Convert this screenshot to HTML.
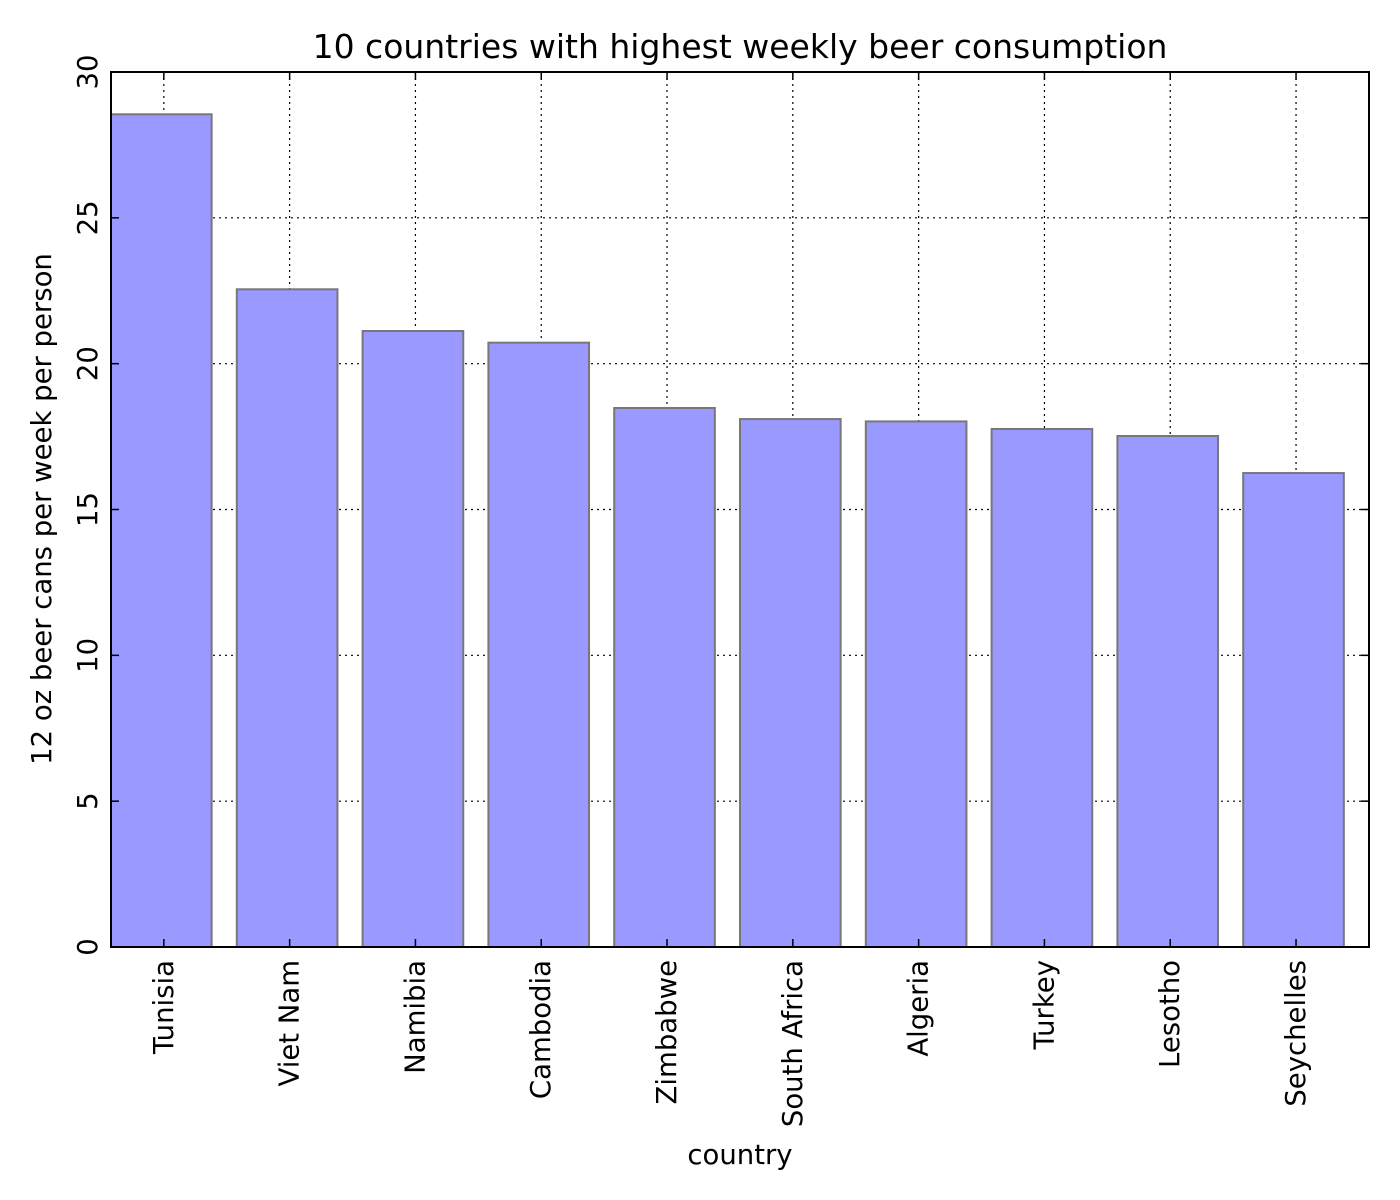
<!DOCTYPE html>
<html><head><meta charset="utf-8">
<style>
html,body{margin:0;padding:0;background:#fff;}
svg{display:block;font-family:"DejaVu Sans","Liberation Sans",sans-serif;}
</style></head>
<body>
<svg id="chart" width="1400" height="1200" viewBox="0 0 1400 1200">
<text x="740" y="58" font-size="33" text-anchor="middle">10 countries with highest weekly beer consumption</text>
<g id="grid"></g>
<g id="bars"></g>
<g id="axes"></g>
<text x="740" y="1164" font-size="27.5" text-anchor="middle">country</text>
<text transform="translate(51,509) rotate(-90)" font-size="27.5" text-anchor="middle">12 oz beer cans per week per person</text>
</svg>
<script>
const categories = ["Tunisia","Viet Nam","Namibia","Cambodia","Zimbabwe","South Africa","Algeria","Turkey","Lesotho","Seychelles"];
const values = [28.55, 22.55, 21.12, 20.72, 18.48, 18.1, 18.02, 17.76, 17.52, 16.25];
const yTicks = [0, 5, 10, 15, 20, 25, 30];

const NS = "http://www.w3.org/2000/svg";
const L = 111, R = 1369, T = 72, B = 947, yMax = 30;
const slot = (R - L) / categories.length;
const y = v => B - (v / yMax) * (B - T);
const xLeft = i => L + i * slot;
const xTick = i => L + i * slot + slot * 0.42;

function mk(tag, attrs, parent) {
  const e = document.createElementNS(NS, tag);
  for (const k in attrs) e.setAttribute(k, attrs[k]);
  parent.appendChild(e);
  return e;
}
const bars = document.getElementById("bars");
const grid = document.getElementById("grid");
const axes = document.getElementById("axes");

values.forEach((v, i) => {
  const r = mk("rect", {x: xLeft(i), y: y(v), width: slot * 0.8, height: B - y(v), fill: "#9999ff", stroke: "#777777", "stroke-width": 2}, bars);
  
  
});

categories.forEach((c, i) => {
  const x = xTick(i);
  const g = mk("line", {x1: x, x2: x, y1: T, y2: B, stroke: "#000", "stroke-width": 1.2, "stroke-dasharray": "2,4"}, grid);
  
  
  mk("line", {x1: x, x2: x, y1: B, y2: B - 8, stroke: "#000", "stroke-width": 1.5}, axes);
  mk("line", {x1: x, x2: x, y1: T, y2: T + 8, stroke: "#000", "stroke-width": 1.5}, axes);
  const t = mk("text", {transform: `translate(${x + 9},960) rotate(-90)`, "font-size": 27.5, "text-anchor": "end"}, axes);
  t.textContent = c;
  
  
});

yTicks.forEach(v => {
  const yy = y(v);
  if (v > 0 && v < yMax) {
    const g = mk("line", {x1: L, x2: R, y1: yy, y2: yy, stroke: "#000", "stroke-width": 1.2, "stroke-dasharray": "2,4"}, grid);
    
    
  }
  mk("line", {x1: L, x2: L + 8, y1: yy, y2: yy, stroke: "#000", "stroke-width": 1.5}, axes);
  mk("line", {x1: R, x2: R - 8, y1: yy, y2: yy, stroke: "#000", "stroke-width": 1.5}, axes);
  const t = mk("text", {transform: `translate(${L - 14},${yy}) rotate(-90)`, "font-size": 27.5, "text-anchor": "middle"}, axes);
  t.textContent = v;
  
  
});

const frame = mk("rect", {x: L, y: T, width: R - L, height: B - T, fill: "none", stroke: "#000", "stroke-width": 2}, axes);


</script>
</body></html>
